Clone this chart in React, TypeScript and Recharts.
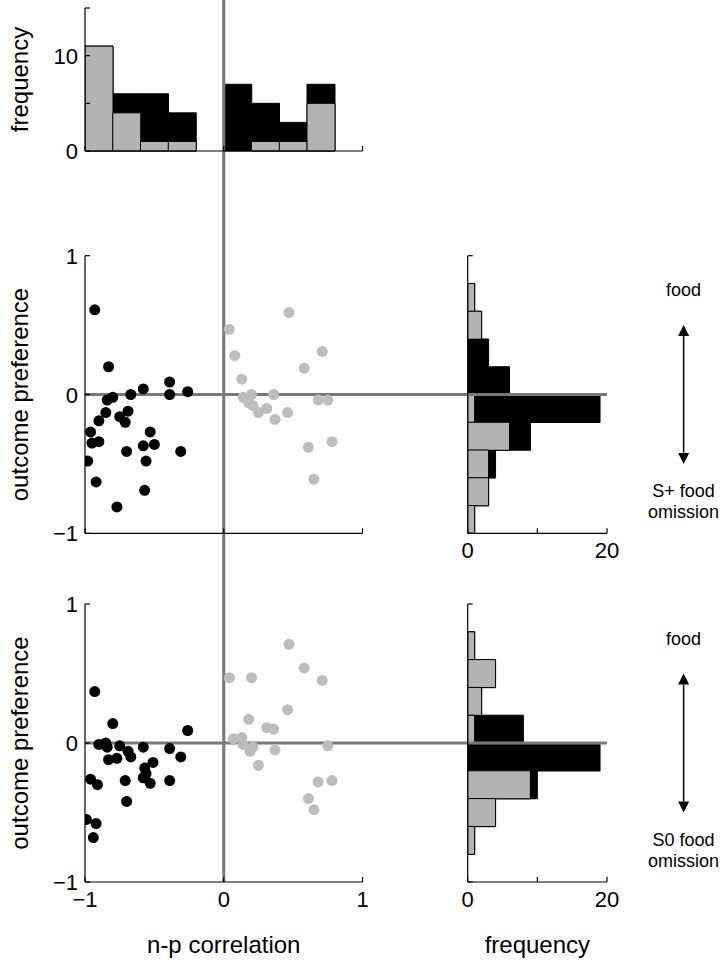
import {
  Bar,
  BarChart,
  ReferenceLine,
  Scatter,
  ScatterChart,
  XAxis,
  YAxis
} from "recharts";

const FONT = "'Liberation Sans', Arial, Helvetica, sans-serif";
const AXIS = "#000";
const BAR_GRAY = "#b3b3b3";
const DOT_GRAY = "#bdbdbd";
const ZERO_LINE = "#787878";

// top histogram: n-p correlation, bin centres (width 0.2)
const corrBins = [-0.9, -0.7, -0.5, -0.3, -0.1, 0.1, 0.3, 0.5, 0.7, 0.9];
const corrTotal = [11, 6, 6, 4, 0, 7, 5, 3, 7, 0];
const corrGray = [11, 4, 1, 1, 0, 0, 1, 1, 5, 0];

// side histograms: outcome preference, bin centres (width 0.2)
const prefBins = [0.9, 0.7, 0.5, 0.3, 0.1, -0.1, -0.3, -0.5, -0.7, -0.9];
const splusTotal = [0, 1, 2, 3, 6, 19, 9, 4, 3, 1];
const splusGray = [0, 1, 2, 0, 0, 1, 6, 3, 3, 1];
const s0Total = [0, 1, 4, 2, 8, 19, 10, 4, 1, 0];
const s0Gray = [0, 1, 4, 2, 1, 0, 9, 4, 1, 0];

// scatter points: [n-p correlation, outcome preference]
const splusBlack = [
  [-0.93, 0.61], [-0.83, 0.2], [-0.84, -0.04], [-0.8, -0.02], [-0.67, 0.0],
  [-0.58, 0.04], [-0.39, 0.09], [-0.39, 0.0], [-0.26, 0.02], [-0.85, -0.13],
  [-0.9, -0.19], [-0.75, -0.16], [-0.71, -0.2], [-0.69, -0.12], [-0.96, -0.27],
  [-0.95, -0.35], [-0.9, -0.34], [-0.98, -0.48], [-0.92, -0.63], [-0.77, -0.81],
  [-0.7, -0.41], [-0.58, -0.37], [-0.53, -0.27], [-0.5, -0.36], [-0.56, -0.48],
  [-0.57, -0.69], [-0.31, -0.41]
];
const splusGrayPts = [
  [0.04, 0.47], [0.08, 0.28], [0.13, 0.11], [0.47, 0.59], [0.58, 0.19],
  [0.71, 0.31], [0.14, -0.02], [0.2, 0.0], [0.18, -0.06], [0.21, -0.08],
  [0.25, -0.13], [0.31, -0.1], [0.36, 0.0], [0.37, -0.18], [0.46, -0.13],
  [0.68, -0.04], [0.75, -0.04], [0.78, -0.34], [0.61, -0.38], [0.65, -0.61]
];
const s0Black = [
  [-0.93, 0.37], [-0.8, 0.14], [-0.9, -0.01], [-0.85, 0.0], [-0.84, -0.03],
  [-0.75, -0.02], [-0.69, -0.06], [-0.67, -0.1], [-0.58, -0.03], [-0.39, -0.04],
  [-0.31, -0.1], [-0.26, 0.09], [-0.83, -0.12], [-0.77, -0.11], [-0.51, -0.14],
  [-0.57, -0.18], [-0.58, -0.25], [-0.56, -0.22], [-0.53, -0.29], [-0.39, -0.27],
  [-0.71, -0.27], [-0.96, -0.26], [-0.91, -0.3], [-0.7, -0.42], [-0.99, -0.55],
  [-0.92, -0.58], [-0.94, -0.68]
];
const s0GrayPts = [
  [0.04, 0.47], [0.2, 0.47], [0.47, 0.71], [0.58, 0.54], [0.71, 0.45],
  [0.46, 0.24], [0.18, 0.17], [0.31, 0.11], [0.36, 0.1], [0.07, 0.03],
  [0.13, 0.04], [0.14, -0.01], [0.21, -0.03], [0.19, -0.06], [0.37, -0.05],
  [0.75, -0.02], [0.25, -0.16], [0.68, -0.28], [0.78, -0.27], [0.61, -0.4],
  [0.65, -0.48]
];

// ticks
const freqTicks = [0, 5, 10, 15];
const freqTickLabels = ["0", "", "10", ""];
const corrTicks = [-1, 0, 1];
const corrTickLabels = ["\u22121", "0", "1"];
const prefTicks = [-1, 0, 1];
const prefTickLabels = ["\u22121", "0", "1"];
const sideTicks = [0, 10, 20];
const sideTickLabels = ["0", "", "20"];
const sideEdgeTicks = [-1, 1];

// annotation arrow (in frequency / preference units of the side panels)
const arrowFreq = 31;
const arrowSpan = [0.5, -0.5];

const corrData = corrBins.map((bin, i) => ({ bin, total: corrTotal[i], gray: corrGray[i] }));
const splusHist = prefBins.map((bin, i) => ({ bin, total: splusTotal[i], gray: splusGray[i] }));
const s0Hist = prefBins.map((bin, i) => ({ bin, total: s0Total[i], gray: s0Gray[i] }));
const toPoints = (pts: number[][]) => pts.map(([x, y]) => ({ x, y }));

// layout
const PLOT_LEFT = 85;
const PLOT_W = 277.5;
const LEFT_W = 440;
const SIDE_LEFT = 27.7;
const SIDE_W = 139.3;
const SIDE_CHART_W = 288;
const TICK_FONT = 22;
const TITLE_FONT = 24;

// inward tick on a left axis, label to its left
function leftTick(labels: string[]) {
  return (props: any) => {
    const { x, y, index } = props;
    const label = labels[index];
    return (
      <g>
        <line x1={x} x2={x + 5} y1={y} y2={y} stroke={AXIS} strokeWidth={1.2} />
        {label ? (
          <text x={x - 7} y={y + 8} textAnchor="end" fontSize={TICK_FONT} fill="#000">
            {label}
          </text>
        ) : null}
      </g>
    );
  };
}

// inward tick on a bottom axis, label below
function bottomTick(labels: string[] | null) {
  return (props: any) => {
    const { x, y, index } = props;
    const label = labels ? labels[index] : "";
    return (
      <g>
        <line x1={x} x2={x} y1={y} y2={y - 5} stroke={AXIS} strokeWidth={1.2} />
        {label ? (
          <text x={x} y={y + 25} textAnchor="middle" fontSize={TICK_FONT} fill="#000">
            {label}
          </text>
        ) : null}
      </g>
    );
  };
}

// zero lines drawn past the plot edges so the panels read as one figure
function vLine(top: number, bottom?: number) {
  return (p: any) => (
    <line
      x1={p.x1}
      x2={p.x2}
      y1={top}
      y2={bottom ?? Math.max(p.y1, p.y2)}
      stroke={ZERO_LINE}
      strokeWidth={3}
    />
  );
}

function hLine(left?: number, right?: number) {
  return (p: any) => (
    <line
      x1={left ?? Math.min(p.x1, p.x2)}
      x2={right ?? Math.max(p.x1, p.x2)}
      y1={p.y1}
      y2={p.y2}
      stroke={ZERO_LINE}
      strokeWidth={3}
    />
  );
}

function arrowNote(topText: string, bottomText: string[]) {
  return (p: any) => {
    const x = p.x1;
    const yTop = Math.min(p.y1, p.y2);
    const yBot = Math.max(p.y1, p.y2);
    const head = 11;
    return (
      <g>
        <line x1={x} x2={x} y1={yTop + head} y2={yBot - head} stroke="#000" strokeWidth={1.5} />
        <polygon points={`${x},${yTop} ${x - 5.5},${yTop + head} ${x + 5.5},${yTop + head}`} fill="#000" />
        <polygon points={`${x},${yBot} ${x - 5.5},${yBot - head} ${x + 5.5},${yBot - head}`} fill="#000" />
        <text x={x} y={yTop - 29} textAnchor="middle" fontSize={18} fill="#000">
          {topText}
        </text>
        {bottomText.map((t, i) => (
          <text key={t} x={x} y={yBot + 33 + i * 21} textAnchor="middle" fontSize={18} fill="#000">
            {t}
          </text>
        ))}
      </g>
    );
  };
}

const dot = (fill: string) => (p: any) => <circle cx={p.cx} cy={p.cy} r={5.5} fill={fill} />;

function CorrHistogram() {
  const height = 205;
  return (
    <BarChart
      width={400}
      height={height}
      data={corrData}
      barCategoryGap={0}
      barGap={0}
      margin={{ top: 8, right: 400 - PLOT_LEFT - PLOT_W, bottom: 24, left: 0 }}
    >
      <XAxis
        xAxisId="back"
        dataKey="bin"
        type="number"
        domain={[-1, 1]}
        allowDataOverflow
        ticks={corrTicks}
        interval={0}
        height={30}
        tickSize={0}
        tickMargin={0}
        tickLine={false}
        axisLine={{ stroke: AXIS, strokeWidth: 1.2 }}
        tick={bottomTick(null)}
      />
      <XAxis xAxisId="front" dataKey="bin" type="number" domain={[-1, 1]} allowDataOverflow hide />
      <YAxis
        type="number"
        domain={[0, 15]}
        ticks={freqTicks}
        interval={0}
        width={PLOT_LEFT}
        tickSize={0}
        tickMargin={0}
        tickLine={false}
        axisLine={{ stroke: AXIS, strokeWidth: 1.2 }}
        tick={leftTick(freqTickLabels)}
        label={{
          value: "frequency",
          angle: -90,
          position: "insideLeft",
          offset: 19,
          textAnchor: "middle",
          fontSize: TITLE_FONT,
          fill: "#000"
        }}
      />
      <Bar xAxisId="back" dataKey="total" fill="#000" stroke="#000" strokeWidth={1} isAnimationActive={false} />
      <Bar xAxisId="front" dataKey="gray" fill={BAR_GRAY} stroke="#000" strokeWidth={1} isAnimationActive={false} />
      <ReferenceLine xAxisId="back" x={0} shape={vLine(0, height)} />
    </BarChart>
  );
}

type PanelProps = {
  height: number;
  top: number;
  black: number[][];
  gray: number[][];
  showX: boolean;
  bottom: number;
};

function PrefScatter({ height, top, black, gray, showX, bottom }: PanelProps) {
  return (
    <ScatterChart
      width={LEFT_W}
      height={height}
      margin={{ top, right: LEFT_W - PLOT_LEFT - PLOT_W, bottom, left: 0 }}
    >
      <XAxis
        dataKey="x"
        type="number"
        domain={[-1, 1]}
        allowDataOverflow
        ticks={corrTicks}
        interval={0}
        height={30}
        tickSize={0}
        tickMargin={0}
        tickLine={false}
        axisLine={{ stroke: AXIS, strokeWidth: 1.2 }}
        tick={bottomTick(showX ? corrTickLabels : null)}
        label={
          showX
            ? { value: "n-p correlation", position: "bottom", offset: 24, fontSize: TITLE_FONT, fill: "#000" }
            : undefined
        }
      />
      <YAxis
        dataKey="y"
        type="number"
        domain={[-1, 1]}
        allowDataOverflow
        ticks={prefTicks}
        interval={0}
        width={PLOT_LEFT}
        tickSize={0}
        tickMargin={0}
        tickLine={false}
        axisLine={{ stroke: AXIS, strokeWidth: 1.2 }}
        tick={leftTick(prefTickLabels)}
        label={{
          value: "outcome preference",
          angle: -90,
          position: "insideLeft",
          offset: 19,
          textAnchor: "middle",
          fontSize: TITLE_FONT,
          fill: "#000"
        }}
      />
      <ReferenceLine y={0} shape={hLine(undefined, LEFT_W)} />
      <ReferenceLine x={0} shape={vLine(0, showX ? undefined : height)} />
      <Scatter data={toPoints(black)} shape={dot("#000")} isAnimationActive={false} />
      <Scatter data={toPoints(gray)} shape={dot(DOT_GRAY)} isAnimationActive={false} />
    </ScatterChart>
  );
}

type SideProps = {
  height: number;
  top: number;
  bottom: number;
  data: { bin: number; total: number; gray: number }[];
  note: string[];
  showTitle: boolean;
};

function PrefHistogram({ height, top, bottom, data, note, showTitle }: SideProps) {
  return (
    <BarChart
      layout="vertical"
      width={SIDE_CHART_W}
      height={height}
      data={data}
      barCategoryGap={0}
      barGap={0}
      margin={{ top, right: SIDE_CHART_W - SIDE_LEFT - SIDE_W, bottom, left: 0 }}
    >
      <XAxis
        type="number"
        domain={[0, 20]}
        allowDataOverflow
        ticks={sideTicks}
        interval={0}
        height={30}
        tickSize={0}
        tickMargin={0}
        tickLine={false}
        axisLine={{ stroke: AXIS, strokeWidth: 1.2 }}
        tick={bottomTick(sideTickLabels)}
        label={
          showTitle
            ? { value: "frequency", position: "bottom", offset: 24, fontSize: TITLE_FONT, fill: "#000" }
            : undefined
        }
      />
      <YAxis
        yAxisId="back"
        dataKey="bin"
        type="number"
        domain={[-1, 1]}
        allowDataOverflow
        reversed
        ticks={sideEdgeTicks}
        interval={0}
        width={SIDE_LEFT}
        tickSize={0}
        tickMargin={0}
        tickLine={false}
        axisLine={{ stroke: AXIS, strokeWidth: 1.2 }}
        tick={leftTick(["", ""])}
      />
      <YAxis yAxisId="front" dataKey="bin" type="number" domain={[-1, 1]} allowDataOverflow reversed hide />
      <Bar yAxisId="back" dataKey="total" fill="#000" stroke="#000" strokeWidth={1} isAnimationActive={false} />
      <Bar yAxisId="front" dataKey="gray" fill={BAR_GRAY} stroke="#000" strokeWidth={1} isAnimationActive={false} />
      <ReferenceLine yAxisId="back" y={0} shape={hLine(0, undefined)} />
      <ReferenceLine
        yAxisId="back"
        ifOverflow="visible"
        segment={[
          { x: arrowFreq, y: arrowSpan[0] },
          { x: arrowFreq, y: arrowSpan[1] }
        ]}
        shape={arrowNote("food", note)}
      />
    </BarChart>
  );
}

export default function App() {
  return (
    <div
      style={{
        position: "absolute",
        left: 0,
        top: 0,
        width: 728,
        height: 967,
        background: "#fff",
        fontFamily: FONT,
        overflow: "hidden"
      }}
    >
      <div style={{ position: "absolute", left: 0, top: 0 }}>
        <CorrHistogram />
      </div>
      <div style={{ position: "absolute", left: 0, top: 205 }}>
        <PrefScatter height={375} top={50.7} bottom={16.7} black={splusBlack} gray={splusGrayPts} showX={false} />
      </div>
      <div style={{ position: "absolute", left: LEFT_W, top: 205 }}>
        <PrefHistogram height={375} top={50.7} bottom={16.7} data={splusHist} note={["S+ food", "omission"]} showTitle={false} />
      </div>
      <div style={{ position: "absolute", left: 0, top: 580 }}>
        <PrefScatter height={387} top={24} bottom={55} black={s0Black} gray={s0GrayPts} showX />
      </div>
      <div style={{ position: "absolute", left: LEFT_W, top: 580 }}>
        <PrefHistogram height={387} top={24} bottom={55} data={s0Hist} note={["S0 food", "omission"]} showTitle />
      </div>
    </div>
  );
}
